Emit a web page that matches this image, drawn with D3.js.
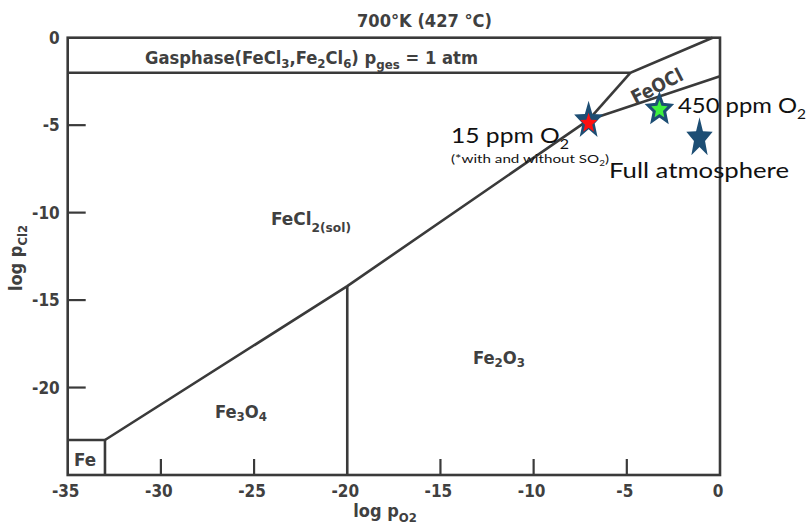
<!DOCTYPE html>
<html><head><meta charset="utf-8">
<script src="https://cdn.jsdelivr.net/npm/d3@7"></script>
<style>body{margin:0;background:#fff}svg{display:block}</style>
</head><body>
<svg id="c" width="811" height="528"></svg>
<script>
// ---- data (log pO2, log pCl2) ----
const xTickValues = [-35, -30, -25, -20, -15, -10, -5, 0];
const yTickValues = [0, -5, -10, -15, -20];
const xInnerTicks = [-30, -25, -15, -10, -5];
const yInnerTicks = [-5, -10, -15, -20];
const gasBoundary = [[-35, -2], [-4.8, -2], [-0.4, 0]];
const feoclUpper = [[-4.8, -2], [-7.05, -4.7]];
const feoclLower = [[-7.05, -4.7], [0, -2.2]];
const chlorideOxide = [[-33, -23], [-20, -14.2], [-7.05, -4.7]];
const magnetiteHematite = [[-20, -14.2], [-20, -25]];
const ironBox = [[-35, -23], [-33, -23], [-33, -25]];
const starLabels = ["15 ppm O2", "450 ppm O2", "Full atmosphere"];
const starLogPO2 = [-7.05, -3.25, -1.1];
const starLogPCl2 = [-4.75, -4.1, -5.75];

const svg = d3.select("#c");
const x = d3.scaleLinear().domain([-35, 0]).range([67.7, 720]);
const y = d3.scaleLinear().domain([0, -25]).range([37.7, 475]);

const ink = "#3a3a3a";
const textInk = "#404040";
const scanFont = "'Liberation Sans Narrow','DejaVu Sans Condensed','DejaVu Sans',sans-serif";
const annFont = "Lato, 'Open Sans', sans-serif";

// frame
svg.append("rect")
  .attr("x", x(-35)).attr("y", y(0))
  .attr("width", x(0) - x(-35)).attr("height", y(-25) - y(0))
  .attr("fill", "none").attr("stroke", ink).attr("stroke-width", 2.6);

const line = d3.line().x(d => x(d[0])).y(d => y(d[1]));
[gasBoundary, feoclUpper, feoclLower, chlorideOxide, magnetiteHematite, ironBox].forEach(pts => {
  svg.append("path").attr("d", line(pts)).attr("fill", "none")
    .attr("stroke", ink).attr("stroke-width", 2.6).attr("stroke-linejoin", "miter");
});

// inner ticks
svg.selectAll(".xt").data(xInnerTicks).enter().append("line")
  .attr("x1", d => x(d)).attr("x2", d => x(d))
  .attr("y1", y(-25)).attr("y2", y(-25) - 16)
  .attr("stroke", ink).attr("stroke-width", 2.2);
svg.selectAll(".yt").data(yInnerTicks).enter().append("line")
  .attr("y1", d => y(d)).attr("y2", d => y(d))
  .attr("x1", x(-35)).attr("x2", x(-35) + 18)
  .attr("stroke", ink).attr("stroke-width", 2.2);

// tick labels
const fmt = d => d < 0 ? "-" + Math.abs(d) : String(d);
svg.selectAll(".xl").data(xTickValues).enter().append("text")
  .attr("x", d => x(d) - 2).attr("y", y(-25) + 22)
  .attr("text-anchor", "middle")
  .attr("font-family", scanFont).attr("font-weight", "bold").attr("font-size", 17)
  .style("font-stretch", "condensed")
  .attr("fill", textInk).text(fmt);
svg.selectAll(".yl").data(yTickValues).enter().append("text")
  .attr("x", x(-35) - 8).attr("y", d => y(d) + 6)
  .attr("text-anchor", "end")
  .attr("font-family", scanFont).attr("font-weight", "bold").attr("font-size", 17)
  .style("font-stretch", "condensed")
  .attr("fill", textInk).text(fmt);

// helper for scanned text with subscripts
function scanText(px, py, parts, size, opts = {}) {
  const t = svg.append("text").attr("x", px).attr("y", py)
    .attr("font-family", scanFont).attr("font-weight", "bold")
    .style("font-stretch", "condensed")
    .attr("font-size", size).attr("fill", textInk);
  if (opts.anchor) t.attr("text-anchor", opts.anchor);
  if (opts.transform) t.attr("transform", opts.transform);
  let shift = 0;
  parts.forEach(p => {
    const sub = p[1] || 0;
    const s = t.append("tspan").text(p[0]);
    const dy = sub - shift;
    if (dy !== 0) s.attr("dy", dy);
    shift = sub;
    if (sub) s.attr("font-size", size * 0.72);
  });
  if (opts.len) t.attr("textLength", opts.len).attr("lengthAdjust", "spacingAndGlyphs");
  return t;
}

scanText(357, 27, [["700°K (427 °C)"]], 17, {len: 135});
scanText(145, 64, [["Gasphase(FeCl"], ["3", 4], [",Fe"], ["2", 4], ["Cl"], ["6", 4], [") p"], ["ges", 5], [" = 1 atm"]], 18, {len: 333});
scanText(271, 225, [["FeCl"], ["2(sol)", 7]], 18, {len: 80});
scanText(215, 418, [["Fe"], ["3", 3], ["O"], ["4", 3]], 18, {len: 52});
scanText(473, 364, [["Fe"], ["2", 3], ["O"], ["3", 3]], 18, {len: 52});
scanText(74, 466, [["Fe"]], 17, {len: 22});
scanText(0, 0, [["FeOCl"]], 19, {anchor: "middle", transform: "translate(660,92) rotate(-27)"});
scanText(0, 0, [["log p"], ["O2", 5]], 18, {anchor: "middle", transform: "translate(385,517)"});
scanText(0, 0, [["log p"], ["Cl2", 5]], 18, {anchor: "middle", transform: "translate(22,258) rotate(-90)"});

// stars
function starPath(R, ratio, sx) {
  const pts = d3.range(10).map(i => {
    const a = -Math.PI / 2 + i * Math.PI / 5;
    const r = i % 2 ? R * ratio : R;
    return [r * Math.cos(a) * sx, r * Math.sin(a)];
  });
  return "M" + pts.map(p => p[0].toFixed(2) + "," + p[1].toFixed(2)).join("L") + "Z";
}
const blue = "#1d4e74";
// star 1: blue with red centre
svg.append("path").attr("d", starPath(20, 0.42, 0.76))
  .attr("transform", `translate(${x(starLogPO2[0])},${y(starLogPCl2[0])})`)
  .attr("fill", blue);
svg.append("path").attr("d", starPath(10.5, 0.42, 0.86))
  .attr("transform", `translate(${x(starLogPO2[0])},${y(starLogPCl2[0]) + 2.5})`)
  .attr("fill", "#ff1010");
// star 2: green with blue outline
svg.append("path").attr("d", starPath(14, 0.45, 0.86))
  .attr("transform", `translate(${x(starLogPO2[1])},${y(starLogPCl2[1])})`)
  .attr("fill", "#3ef03e").attr("stroke", blue).attr("stroke-width", 3).attr("stroke-linejoin", "miter");
// star 3: solid blue
svg.append("path").attr("d", starPath(21, 0.42, 0.66))
  .attr("transform", `translate(${x(starLogPO2[2])},${y(starLogPCl2[2])})`)
  .attr("fill", blue);

// annotations
function annText(px, py, parts, size, len) {
  const t = svg.append("text").attr("x", px).attr("y", py)
    .attr("font-family", annFont).attr("font-size", size).attr("fill", "#111");
  let shift = 0;
  parts.forEach(p => {
    const sub = p[1] || 0;
    const s = t.append("tspan").text(p[0]);
    if (sub - shift !== 0) s.attr("dy", sub - shift);
    shift = sub;
    if (sub) s.attr("font-size", size * 0.65);
  });
  if (len) t.attr("textLength", len).attr("lengthAdjust", "spacingAndGlyphs");
  return t;
}
annText(678, 113, [["450 ppm O"], ["2", 6]], 22, 128);
annText(451, 143, [["15 ppm O"], ["2", 6]], 22, 118);
annText(451, 163, [["(*with and without SO"], ["2", 3], [")", 0]], 11.5, 158);
annText(609, 178, [["Full atmosphere"]], 22, 180);
</script>
</body></html>
